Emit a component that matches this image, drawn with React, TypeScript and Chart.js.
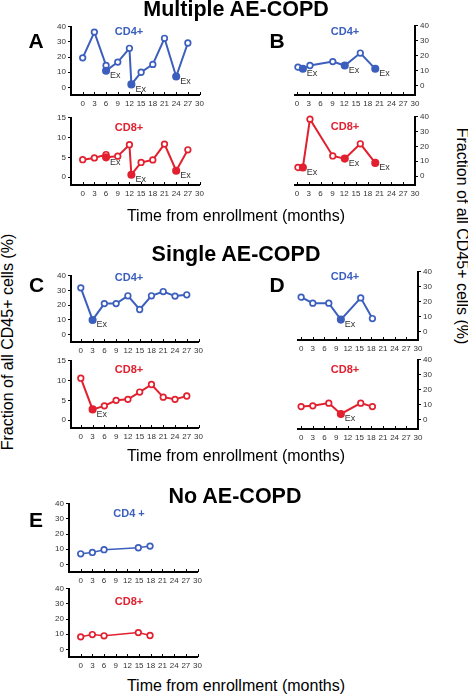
import React, { useEffect, useRef } from "react";
import { Chart, registerables } from "chart.js";

Chart.register(...registerables);

const FONT = "'Liberation Sans', Arial, Helvetica, sans-serif";
const BLUE = "#3c5fbe";
const RED = "#e2202f";

// ---------- tick labels ----------
const monthTicks = [0, 3, 6, 9, 12, 15, 18, 21, 24, 27, 30];
const ticks40 = [0, 10, 20, 30, 40];
const ticks15 = [0, 5, 10, 15];

// ---------- A: multiple AE-COPD (left) ----------
const aMonths = [0, 3, 6, 6, 9, 12, 12.5, 15, 18, 21, 24, 27];
const aEx = [false, false, false, true, false, false, true, false, false, false, true, false];
const aCd4 = [19.5, 36.5, 14.5, 11, 16.7, 25.8, 2, 10, 15.2, 32.4, 7.2, 29.3];
const aCd8 = [4.4, 4.85, 5.7, 5.0, 5.3, 8.2, 0.6, 3.7, 4.35, 8.35, 1.6, 6.9];

// ---------- B: multiple AE-COPD (right) ----------
const bMonths = [0.25, 1.5, 3.3, 9.1, 12.15, 16.1, 19.9];
const bEx = [false, true, false, false, true, false, true];
const bCd4 = [12.5, 11.4, 13.6, 16.2, 13.6, 21.9, 11.4];
const bCd8 = [5.8, 5.8, 38.4, 13.6, 11.8, 21.8, 8.9];

// ---------- C: single AE-COPD (left) ----------
const cMonths = [0, 3, 6, 9, 12, 15, 18, 21, 24, 27];
const cEx = [false, true, false, false, false, false, false, false, false, false];
const cCd4 = [31.8, 10, 21.1, 21.1, 26.4, 17.1, 26.4, 29.3, 26.2, 27.1];
const cCd8 = [10.6, 2.7, 3.6, 5.0, 5.25, 7.1, 9.0, 5.8, 5.25, 6.1];

// ---------- D: single AE-COPD (right) ----------
const dMonths = [0, 3, 7.1, 10.2, 15.3, 18.3];
const dEx = [false, false, false, true, false, false];
const dCd4 = [23.1, 19.1, 19.1, 8.1, 22.6, 8.8];
const dCd8 = [8.9, 9.4, 11.2, 4.0, 11.2, 8.9];

// ---------- E: no AE-COPD ----------
const eMonths = [0, 3, 6, 14.8, 17.8];
const eEx = [false, false, false, false, false];
const eCd4 = [7.0, 7.9, 9.7, 11.0, 12.1];
const eCd8 = [8.3, 9.8, 9.0, 11.1, 9.2];

// layout constants
const WY = 28; // y axis box width
const HX = 16; // x axis box height
const PT = 6; // top padding
const PR = 8; // padding on side opposite to y axis

type MiniProps = {
  area: [number, number, number, number];
  side: "left" | "right";
  months: number[];
  values: number[];
  ex: boolean[];
  color: string;
  yTicks: number[];
  yMin: number;
  yMax: number;
  xMin: number;
  lineWidth: number;
};

function MiniChart(p: MiniProps) {
  const ref = useRef<HTMLCanvasElement>(null);
  const [L, T, R, B] = p.area;
  const left = p.side === "left" ? L - WY : L - PR;
  const width = WY + PR + (R - L);
  const top = T - PT;
  const height = PT + (B - T) + HX;

  useEffect(() => {
    const exFlags = p.ex;
    const exPlugin = {
      id: "exLabels",
      afterDatasetsDraw(chart: any) {
        const ctx = chart.ctx;
        const meta = chart.getDatasetMeta(0);
        ctx.save();
        ctx.font = `9px ${FONT}`;
        ctx.fillStyle = "#333";
        ctx.textBaseline = "middle";
        ctx.textAlign = "left";
        meta.data.forEach((pt: any, i: number) => {
          if (exFlags[i]) ctx.fillText("Ex", pt.x + 4, pt.y + 5);
        });
        ctx.restore();
      },
    };
    const innerTicks = {
      id: "innerTicks",
      beforeDatasetsDraw(chart: any) {
        const ctx = chart.ctx;
        const xs = chart.scales.x;
        const ca = chart.chartArea;
        ctx.save();
        ctx.strokeStyle = "#000";
        ctx.lineWidth = 1;
        monthTicks.forEach((v) => {
          const px = Math.round(xs.getPixelForValue(v)) + 0.5;
          ctx.beginPath();
          ctx.moveTo(px, ca.bottom);
          ctx.lineTo(px, ca.bottom - 3);
          ctx.stroke();
        });
        ctx.restore();
      },
    };
    const chart = new Chart(ref.current as HTMLCanvasElement, {
      type: "line",
      data: {
        datasets: [
          {
            data: p.months.map((m, i) => ({ x: m, y: p.values[i] })),
            borderColor: p.color,
            borderWidth: p.lineWidth,
            pointRadius: p.ex.map((e) => (e ? 3.2 : 2.8)),
            pointBorderWidth: 1.7,
            pointBackgroundColor: p.ex.map((e) => (e ? p.color : "#ffffff")),
            pointBorderColor: p.color,
            tension: 0,
            clip: false as any,
          },
        ],
      },
      options: {
        animation: false,
        responsive: false,
        events: [],
        layout: {
          padding: {
            top: PT,
            bottom: 0,
            left: p.side === "right" ? PR : 0,
            right: p.side === "left" ? PR : 0,
          },
        },
        plugins: { legend: { display: false }, tooltip: { enabled: false } },
        scales: {
          x: {
            type: "linear",
            min: p.xMin,
            max: 30,
            position: "bottom",
            afterBuildTicks: (s: any) => {
              s.ticks = monthTicks.map((v) => ({ value: v }));
            },
            afterFit: (s: any) => {
              s.height = HX;
            },
            grid: { display: false, drawTicks: false },
            border: { display: true, color: "#000", width: 2 },
            ticks: {
              autoSkip: false,
              maxRotation: 0,
              padding: 4,
              color: "#333",
              font: { size: 8, family: FONT },
              callback: (v: any) => String(v),
            },
          },
          y: {
            type: "linear",
            min: p.yMin,
            max: p.yMax,
            position: p.side,
            afterBuildTicks: (s: any) => {
              s.ticks = p.yTicks.map((v) => ({ value: v }));
            },
            afterFit: (s: any) => {
              s.width = WY;
            },
            grid: {
              display: true,
              drawOnChartArea: false,
              drawTicks: true,
              tickLength: 3,
              color: "#000",
              lineWidth: 1,
            },
            border: { display: true, color: "#000", width: 2 },
            ticks: {
              padding: 2,
              color: "#333",
              font: { size: 8, family: FONT },
              callback: (v: any) => String(v),
            },
          },
        },
      } as any,
      plugins: [exPlugin, innerTicks],
    });
    return () => chart.destroy();
  }, []);

  return (
    <canvas
      ref={ref}
      width={width}
      height={height}
      style={{ position: "absolute", left, top, width, height }}
    />
  );
}

function Txt(props: {
  x: number;
  y: number;
  size: number;
  bold?: boolean;
  color?: string;
  rotate?: number;
  children: React.ReactNode;
}) {
  return (
    <div
      style={{
        position: "absolute",
        left: props.x,
        top: props.y,
        transform: `translate(-50%, -50%)${props.rotate ? ` rotate(${props.rotate}deg)` : ""}`,
        fontFamily: FONT,
        fontSize: props.size,
        fontWeight: props.bold ? "bold" : "normal",
        color: props.color || "#000",
        whiteSpace: "nowrap",
        lineHeight: 1,
      }}
    >
      {props.children}
    </div>
  );
}

export default function App() {
  return (
    <div
      style={{
        position: "absolute",
        left: 0,
        top: 0,
        width: 468,
        height: 696,
        background: "#fff",
        overflow: "hidden",
      }}
    >
      {/* A */}
      <MiniChart area={[71, 26, 200, 95]} side="left" months={aMonths} values={aCd4} ex={aEx}
        color={BLUE} yTicks={ticks40} yMin={-5} yMax={40} xMin={-3} lineWidth={2} />
      <MiniChart area={[71, 117, 200, 185]} side="left" months={aMonths} values={aCd8} ex={aEx}
        color={RED} yTicks={ticks15} yMin={-2} yMax={15} xMin={-3} lineWidth={2} />
      {/* B */}
      <MiniChart area={[295, 25, 415, 95]} side="right" months={bMonths} values={bCd4} ex={bEx}
        color={BLUE} yTicks={ticks40} yMin={-6} yMax={40} xMin={-0.5} lineWidth={2} />
      <MiniChart area={[295, 116, 415, 185]} side="right" months={bMonths} values={bCd8} ex={bEx}
        color={RED} yTicks={ticks40} yMin={-6} yMax={40} xMin={-0.5} lineWidth={2} />
      {/* C */}
      <MiniChart area={[71, 275, 199, 342]} side="left" months={cMonths} values={cCd4} ex={cEx}
        color={BLUE} yTicks={ticks40} yMin={-5} yMax={40} xMin={-2.5} lineWidth={2} />
      <MiniChart area={[71, 360, 199, 428]} side="left" months={cMonths} values={cCd8} ex={cEx}
        color={RED} yTicks={ticks15} yMin={-2} yMax={15} xMin={-2.5} lineWidth={2} />
      {/* D */}
      <MiniChart area={[298, 271, 418, 340]} side="right" months={dMonths} values={dCd4} ex={dEx}
        color={BLUE} yTicks={ticks40} yMin={-5.5} yMax={40} xMin={-0.8} lineWidth={2} />
      <MiniChart area={[298, 359, 418, 429]} side="right" months={dMonths} values={dCd8} ex={dEx}
        color={RED} yTicks={ticks40} yMin={-6} yMax={40} xMin={-0.8} lineWidth={2} />
      {/* E */}
      <MiniChart area={[69, 503, 198, 572]} side="left" months={eMonths} values={eCd4} ex={eEx}
        color={BLUE} yTicks={ticks40} yMin={-5} yMax={40} xMin={-3} lineWidth={1.5} />
      <MiniChart area={[69, 588, 198, 657]} side="left" months={eMonths} values={eCd8} ex={eEx}
        color={RED} yTicks={ticks40} yMin={-5} yMax={40} xMin={-3} lineWidth={1.5} />

      {/* section titles */}
      <Txt x={236} y={9.5} size={21.5} bold>Multiple AE-COPD</Txt>
      <Txt x={236} y={255} size={21.5} bold>Single AE-COPD</Txt>
      <Txt x={235} y={497} size={21.5} bold>No AE-COPD</Txt>

      {/* panel letters */}
      <Txt x={36} y={40} size={21} bold>A</Txt>
      <Txt x={277} y={40} size={21} bold>B</Txt>
      <Txt x={36.5} y={283.5} size={21} bold>C</Txt>
      <Txt x={277} y={284} size={21} bold>D</Txt>
      <Txt x={36} y={518.5} size={21} bold>E</Txt>

      {/* series labels */}
      <Txt x={129} y={31} size={11} bold color={BLUE}>CD4+</Txt>
      <Txt x={129} y={127} size={11} bold color={RED}>CD8+</Txt>
      <Txt x={345} y={31} size={11} bold color={BLUE}>CD4+</Txt>
      <Txt x={345} y={126} size={11} bold color={RED}>CD8+</Txt>
      <Txt x={129} y={277} size={11} bold color={BLUE}>CD4+</Txt>
      <Txt x={129} y={369} size={11} bold color={RED}>CD8+</Txt>
      <Txt x={345} y={276} size={11} bold color={BLUE}>CD4+</Txt>
      <Txt x={345} y={369} size={11} bold color={RED}>CD8+</Txt>
      <Txt x={129} y={513} size={11} bold color={BLUE}>CD4 +</Txt>
      <Txt x={129} y={601} size={11} bold color={RED}>CD8+</Txt>

      {/* x axis titles */}
      <Txt x={236} y={215.5} size={16}>Time from enrollment (months)</Txt>
      <Txt x={236} y={455.5} size={16}>Time from enrollment (months)</Txt>
      <Txt x={236} y={686} size={16}>Time from enrollment (months)</Txt>

      {/* y axis titles */}
      <Txt x={461.5} y={236} size={16} rotate={90}>Fraction of all CD45+ cells (%)</Txt>
      <Txt x={8} y={341.5} size={16} rotate={-90}>Fraction of all CD45+ cells (%)</Txt>
    </div>
  );
}
